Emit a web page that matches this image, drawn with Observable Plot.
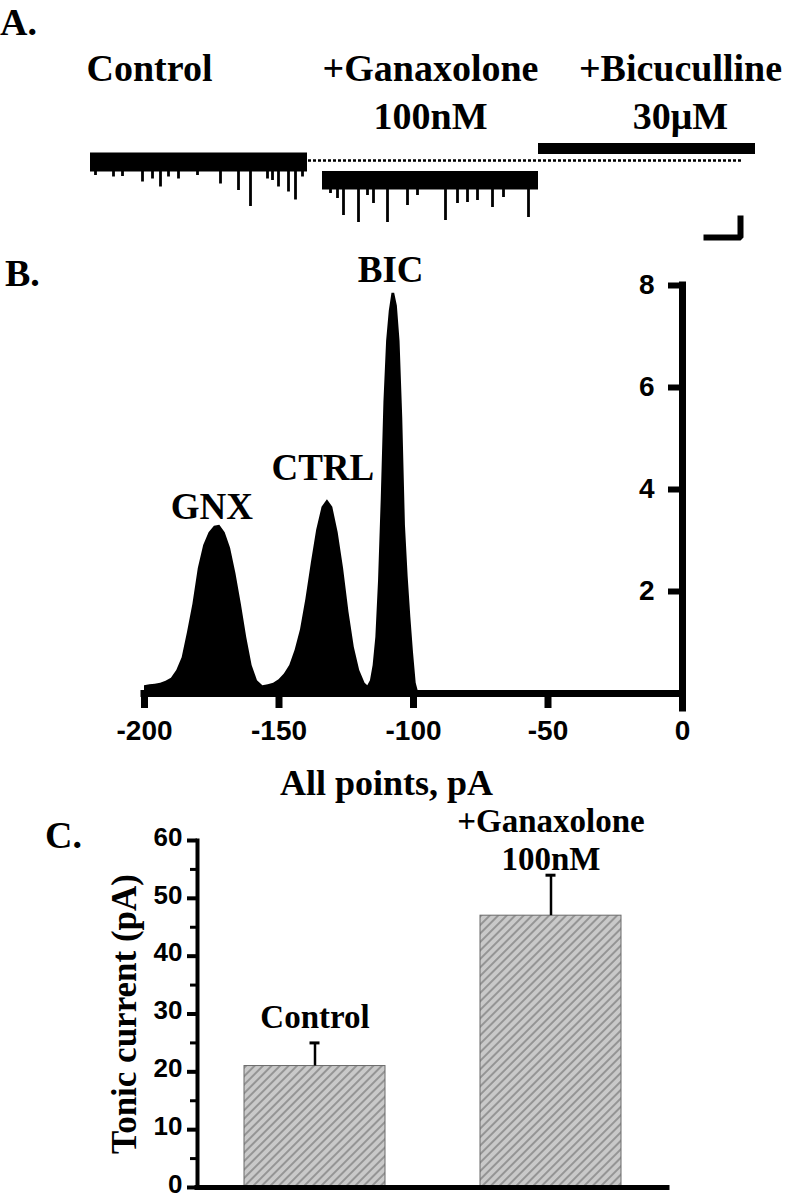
<!DOCTYPE html>
<html>
<head>
<meta charset="utf-8">
<script src="https://cdn.jsdelivr.net/npm/d3@7"></script>
<script src="https://cdn.jsdelivr.net/npm/@observablehq/plot@0.6"></script>
<style>
  html, body { margin: 0; padding: 0; background: #fff; }
  #fig { position: relative; width: 787px; height: 1199px; overflow: hidden; background: #fff; }
  .panel { position: absolute; left: 0; }
  .plabel { position: absolute; font-family: "Liberation Serif", "Times New Roman", serif; font-weight: bold; font-size: 38px; line-height: normal; color: #000; }
</style>
</head>
<body>
<div id="fig">
  <div class="panel" id="panelA" style="top:0px"></div>
  <div class="panel" id="panelB" style="top:240px"></div>
  <div class="panel" id="panelC" style="top:790px"></div>
  <div class="plabel" style="left:0px;top:0px">A.</div>
  <div class="plabel" style="left:5px;top:251px">B.</div>
  <div class="plabel" style="left:45px;top:813px">C.</div>
</div>
<script>
// ================= DATA =================
// Panel A: current traces (time in s, current in pA)
const traceNames   = ["Control", "+Ganaxolone", "+Bicuculline"];
const traceStartS  = [9.0, 32.2, 53.8];
const traceEndS    = [30.7, 53.8, 75.5];
const bandUpperPA  = [-116, -153, -97];
const bandLowerPA  = [-154, -190, -119];
const controlBaselinePA = -131;
const baselineDotsS = [30.8, 74.1];

const ctrlEventS  = [9.5, 11.3, 12.2, 14.2, 15.2, 16.0, 16.8, 17.8, 19.7, 22.0, 23.8, 25.0, 26.7, 27.2, 27.8, 28.8, 29.5, 30.2];
const ctrlEventPA = [-161, -164, -163, -174, -168, -184, -164, -168, -161, -178, -191, -223, -168, -171, -184, -194, -210, -164];
const gnxEventS   = [33.0, 33.7, 34.3, 35.8, 36.7, 37.3, 38.7, 40.7, 41.7, 44.5, 45.7, 46.7, 47.7, 49.2, 50.3, 52.8];
const gnxEventPA  = [-197, -207, -241, -255, -201, -217, -255, -221, -201, -251, -217, -215, -211, -225, -205, -245];

const conditionLabels = ["Control", "+Ganaxolone\n100nM", "+Bicuculline\n30μM"];
const conditionLabelS = [14.9, 43.0, 68.0];

const scaleBarS  = [70.3, 74.0, 74.0];
const scaleBarPA = [-285, -285, -241];

// Panel B: all-points histogram
const histPA = [-200,-198,-196,-194,-192,-190,-188,-186,-184,-182,-180,-178,-176,-174,-172,-170,-168,-166,-164,-162,-160,-158,-156,-154,-152,-150,-148,-146,-144,-142,-140,-138,-136,-134,-132,-130,-128,-126,-124,-122,-120,-118,-117,-116,-115,-114,-113,-112,-111,-110,-109,-108,-107,-106,-105,-104,-103,-102,-101,-100,-99,-98];
const histCount = [0.15,0.17,0.18,0.20,0.24,0.30,0.45,0.70,1.20,1.75,2.45,2.90,3.15,3.28,3.30,3.15,2.85,2.35,1.75,1.10,0.55,0.25,0.15,0.17,0.20,0.27,0.38,0.55,0.85,1.25,1.85,2.55,3.20,3.65,3.80,3.65,3.15,2.45,1.60,0.90,0.45,0.20,0.15,0.25,0.55,1.10,2.20,3.80,5.70,6.90,7.50,7.85,7.85,7.60,6.90,5.40,3.30,2.30,1.50,0.80,0.20,0];
const peakNames = ["GNX", "CTRL", "BIC"];
const peakLabelPA = [-175, -133.7, -108.5];
const peakLabelCount = [3.43, 4.18, 8.06];
const xTicksB = [-200, -150, -100, -50, 0];
const xTickLabelsB = ["-200", "-150", "-100", "-50", "0"];
const yTicksB = [2, 4, 6, 8];

// Panel C: tonic current bars
const barCategories = ["Control", "+Ganaxolone 100nM"];
const barLabels = ["Control", "+Ganaxolone\n100nM"];
const barMean = [21, 47];
const barSEM  = [4, 7];
const yTicksC = [0, 10, 20, 30, 40, 50, 60];
const yMinorTicksC = [5, 15, 25, 35, 45, 55];

// ================= BUILD =================
const serif = '"Liberation Serif", "Times New Roman", serif';
const sans = '"Liberation Sans", Arial, sans-serif';
const baseStyle = {background: "transparent", overflow: "visible", fontFamily: sans, fontWeight: "bold", color: "black"};

// ---- Panel A ----
const traces = traceNames.map((name, i) => ({name, start: traceStartS[i], end: traceEndS[i], upper: bandUpperPA[i], lower: bandLowerPA[i]}));
const events = [
  ...ctrlEventS.map((t, i) => ({t, pa: ctrlEventPA[i], base: bandLowerPA[0] + 1})),
  ...gnxEventS.map((t, i) => ({t, pa: gnxEventPA[i], base: bandLowerPA[1] + 1}))
];
const scaleBar = scaleBarS.map((t, i) => ({t, pa: scaleBarPA[i]}));
const condLabels = conditionLabels.map((label, i) => ({label, t: conditionLabelS[i]}));

const panelA = Plot.plot({
  width: 787, height: 250, margin: 0,
  x: {domain: [0, 78.7], axis: null},
  y: {domain: [-311, 189], axis: null},
  style: baseStyle,
  marks: [
    Plot.rect(traces, {x1: "start", x2: "end", y1: "lower", y2: "upper", fill: "black"}),
    Plot.ruleX(events, {x: "t", y1: "base", y2: "pa", stroke: "black", strokeWidth: 2.8}),
    Plot.ruleY([controlBaselinePA], {x1: baselineDotsS[0], x2: baselineDotsS[1], stroke: "black", strokeWidth: 2.6, strokeDasharray: "3,2"}),
    Plot.line(scaleBar, {x: "t", y: "pa", stroke: "black", strokeWidth: 6, strokeLinejoin: "miter", strokeLinecap: "butt"}),
    Plot.text(condLabels, {x: "t", text: "label", frameAnchor: "top", lineAnchor: "top", dy: 46, lineHeight: 1.263,
      fontSize: 38, fontFamily: serif, fontWeight: "bold", fill: "black"})
  ]
});
document.getElementById("panelA").append(panelA);

// ---- Panel B ----
const hist = histPA.map((pa, i) => ({pa, n: histCount[i]}));
const peaks = peakNames.map((name, i) => ({name, pa: peakLabelPA[i], n: peakLabelCount[i]}));

const panelB = Plot.plot({
  width: 787, height: 570,
  marginLeft: 144, marginRight: 105, marginTop: 45, marginBottom: 117,
  x: {domain: [-200, 0]},
  y: {domain: [0, 8]},
  style: baseStyle,
  marks: [
    Plot.areaY(hist, {x: "pa", y: "n", fill: "black", curve: "linear"}),
    Plot.ruleY([0], {x1: -200, x2: 0, stroke: "black", strokeWidth: 7, strokeLinecap: "square"}),
    Plot.ruleX([0], {y1: 8, y2: 0, stroke: "black", strokeWidth: 7, insetBottom: -15, strokeLinecap: "square"}),
    Plot.axisX({ticks: xTicksB, tickSize: 15, tickPadding: 12, strokeWidth: 7, label: null,
      tickFormat: (d) => xTickLabelsB[xTicksB.indexOf(d)],
      fontSize: 28, fontWeight: "bold", fontFamily: sans, fill: "black"}),
    Plot.axisY({anchor: "right", ticks: yTicksB, tickSize: 15, insetRight: 15, strokeWidth: 6, label: null,
      tickFormat: () => ""}),
    Plot.axisY({anchor: "right", ticks: yTicksB, tickSize: 0, tickPadding: 0, dx: -28, textAnchor: "end", label: null,
      fontSize: 28, fontWeight: "bold", fontFamily: sans, fill: "black"}),
    Plot.text(peaks, {x: "pa", y: "n", text: "name", lineAnchor: "bottom", textAnchor: "middle",
      fontSize: 37, fontFamily: serif, fontWeight: "bold", fill: "black"}),
    Plot.text(["All points, pA"], {frameAnchor: "bottom", dx: -27, dy: 101, lineAnchor: "bottom",
      fontSize: 36, fontFamily: serif, fontWeight: "bold", fill: "black"})
  ]
});
document.getElementById("panelB").append(panelB);

// ---- Panel C ----
const bars = barCategories.map((cond, i) => ({cond, label: barLabels[i], mean: barMean[i], top: barMean[i] + barSEM[i]}));
const hatchDefs = () => {
  const defs = document.createElementNS("http://www.w3.org/2000/svg", "defs");
  defs.innerHTML = '<pattern id="hatch" patternUnits="userSpaceOnUse" width="6" height="6" patternTransform="rotate(45)">' +
    '<rect width="6" height="6" fill="#c9c9c9"></rect>' +
    '<line x1="3" y1="0" x2="3" y2="6" stroke="#606060" stroke-width="1"></line></pattern>';
  return defs;
};

const panelC = Plot.plot({
  width: 787, height: 409,
  marginLeft: 197, marginRight: 120, marginTop: 50, marginBottom: 12,
  x: {type: "band", domain: barCategories, paddingInner: 0.404, paddingOuter: 0.195, axis: null},
  y: {domain: [0, 60]},
  style: baseStyle,
  marks: [
    hatchDefs,
    Plot.barY(bars, {x: "cond", y: "mean", fill: "url(#hatch)", stroke: "#6a6a6a", strokeWidth: 1}),
    Plot.ruleX(bars, {x: "cond", y1: "mean", y2: "top", stroke: "black", strokeWidth: 2.5}),
    Plot.tickY(bars, {x: "cond", y: "top", stroke: "black", strokeWidth: 3, insetLeft: 65.5, insetRight: 65.5}),
    Plot.frame({anchor: "left", stroke: "black", strokeWidth: 4}),
    Plot.ruleY([0], {stroke: "black", strokeWidth: 5, strokeLinecap: "square"}),
    Plot.axisY({ticks: yTicksC, tickSize: 10, tickPadding: 0, strokeWidth: 4, label: null, text: null, tickFormat: () => ""}),
    Plot.axisY({ticks: yTicksC, tickSize: 0, tickPadding: 15, dy: -3, label: null,
      fontSize: 26, fontWeight: "bold", fontFamily: sans, fill: "black"}),
    Plot.axisY({ticks: yMinorTicksC, tickSize: 7, strokeWidth: 3, label: null, tickFormat: () => ""}),
    Plot.text(bars.filter((d, i) => i === 0), {x: "cond", y: "top", text: "label", lineAnchor: "bottom", dy: -15,
      fontSize: 33, fontFamily: serif, fontWeight: "bold", fill: "black"}),
    Plot.text(bars.filter((d, i) => i === 1), {x: "cond", y: "top", text: "label", lineAnchor: "bottom", dy: -5, lineHeight: 1.15,
      fontSize: 33, fontFamily: serif, fontWeight: "bold", fill: "black"}),
    Plot.text(["Tonic current (pA)"], {frameAnchor: "left", rotate: -90, dx: -73, lineAnchor: "middle", textAnchor: "middle",
      fontSize: 35, fontFamily: serif, fontWeight: "bold", fill: "black"})
  ]
});
document.getElementById("panelC").append(panelC);
</script>
</body>
</html>
